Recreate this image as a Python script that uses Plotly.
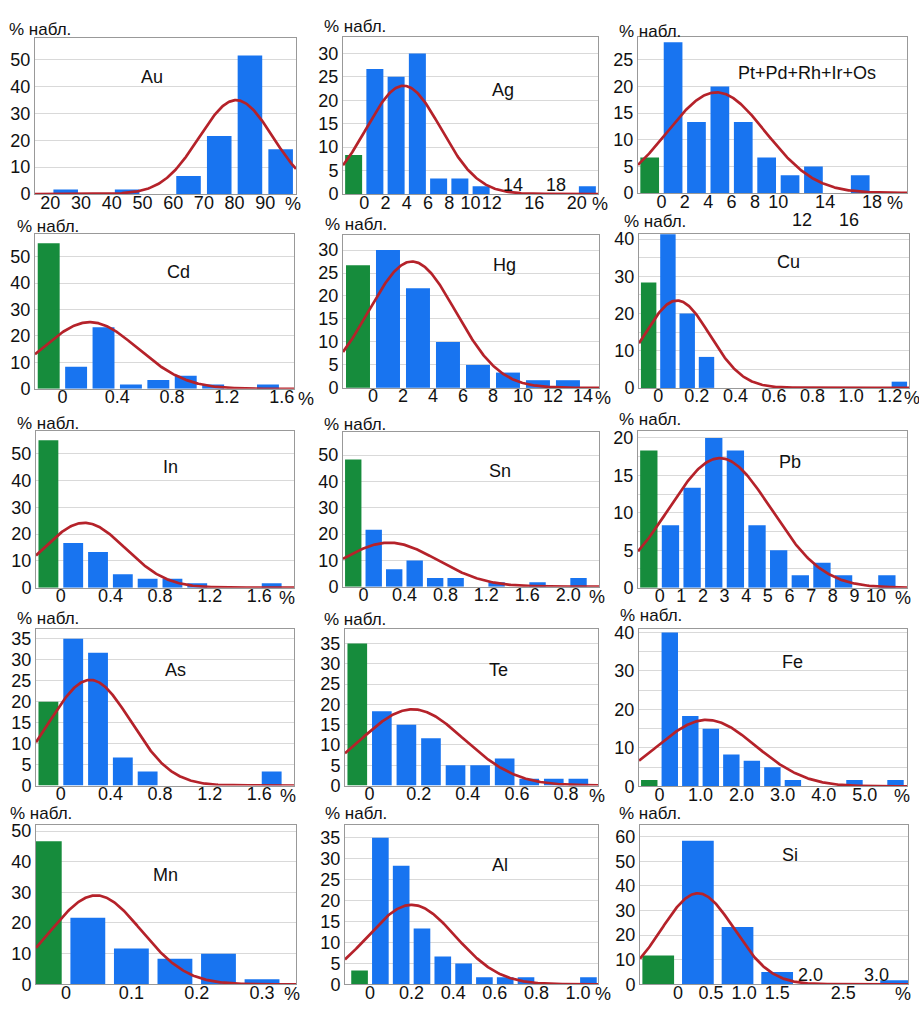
import numpy as np
import plotly.graph_objects as go

W, H = 919, 1014

elements = ["Au", "Ag", "Pt+Pd+Rh+Ir+Os", "Cd", "Hg", "Cu",
            "In", "Sn", "Pb", "As", "Te", "Fe", "Mn", "Al", "Si"]

# % of analyses per concentration class, counted from the first class edge
au_pct = [1.67, 0, 1.67, 0, 6.67, 21.67, 51.67, 16.67]
ag_pct = [26.67, 25.0, 30.0, 3.33, 3.33, 1.67, 0, 0, 0, 0, 1.67]
pgm_pct = [28.33, 13.33, 20.0, 13.33, 6.67, 3.33, 5.0, 0, 3.33]
cd_pct = [8.33, 23.33, 1.67, 3.33, 5.0, 1.67, 0, 1.67]
hg_pct = [30.0, 21.67, 10.0, 5.0, 3.33, 1.67, 1.67]
cu_pct = [41.67, 20.0, 8.33, 0, 0, 0, 0, 0, 0, 0, 0, 0, 1.67]
in_pct = [16.67, 13.33, 5.0, 3.33, 3.33, 1.67, 0, 0, 1.67]
sn_pct = [21.67, 6.67, 10.0, 3.33, 3.33, 0, 1.67, 0, 1.67, 0, 3.33]
pb_pct = [8.33, 13.33, 20.0, 18.33, 8.33, 5.0, 1.67, 3.33, 1.67, 0, 1.67]
as_pct = [35.0, 31.67, 6.67, 3.33, 0, 0, 0, 0, 3.33]
te_pct = [18.33, 15.0, 11.67, 5.0, 5.0, 6.67, 1.67, 1.67, 1.67]
fe_pct = [40.0, 18.33, 15.0, 8.33, 6.67, 5.0, 1.67, 0, 0, 1.67, 0, 1.67]
mn_pct = [21.67, 11.67, 8.33, 10.0, 1.67]
al_pct = [35.0, 28.33, 13.33, 6.67, 5.0, 1.67, 1.67, 1.67, 0, 0, 1.67]
si_pct = [58.33, 23.33, 5.0, 0, 0, 1.67]
class_pct = [au_pct, ag_pct, pgm_pct, cd_pct, hg_pct, cu_pct, in_pct, sn_pct,
             pb_pct, as_pct, te_pct, fe_pct, mn_pct, al_pct, si_pct]

# % of analyses below the detection limit (class left of zero)
below_dl = [None, 8.33, 6.67, 55.0, 26.67, 28.33, 55.0, 48.33,
            18.33, 20.0, 35.0, 1.67, 46.67, 3.33, 11.67]

# class width and first class edge, wt.%
class_w = [10, 2, 2, 0.2, 2, 0.1, 0.2, 0.2, 1, 0.2, 0.1, 0.5, 1 / 15, 0.1, 0.6]
class_0 = [20, 0, 0, 0, 0, 0, 0, 0, 0, 0, 0, 0, 0, 0, 0]

# fitted normal curves: mean, standard deviation, peak height (%)
fit_mean = [80.5, 3.7, 4.7, 0.2, 2.6, 0.097, 0.19, 0.25, 2.78, 0.237, 0.175, 1.15, 0.046, 0.2, 0.3]
fit_sd = [12, 3.5, 4.2, 0.35, 2.9, 0.17, 0.33, 0.47, 2.37, 0.327, 0.21, 1.2, 0.069, 0.21, 0.55]
fit_peak = [35, 23.1, 18.9, 25.2, 27.5, 23.5, 24.2, 16.75, 17.3, 25.2, 18.8, 17.3, 29, 19, 37]

# x tick labels on the axis line
x_tick_vals = [
    [20, 30, 40, 50, 60, 70, 80, 90],
    [0, 2, 4, 6, 8, 10, 12, 16, 20],
    [0, 2, 4, 6, 8, 10, 14, 18],
    [0, 0.4, 0.8, 1.2, 1.6],
    [0, 2, 4, 6, 8, 10, 12, 14],
    [0, 0.2, 0.4, 0.6, 0.8, 1.0, 1.2],
    [0, 0.4, 0.8, 1.2, 1.6],
    [0, 0.4, 0.8, 1.2, 1.6, 2.0],
    [0, 1, 2, 3, 4, 5, 6, 7, 8, 9, 10],
    [0, 0.4, 0.8, 1.2, 1.6],
    [0, 0.2, 0.4, 0.6, 0.8],
    [0, 1, 2, 3, 4, 5],
    [0, 0.1, 0.2, 0.3],
    [0, 0.2, 0.4, 0.6, 0.8, 1.0],
    [0, 0.5, 1.0, 1.5, 2.5],
]
x_tick_text = [
    ["20", "30", "40", "50", "60", "70", "80", "90"],
    ["0", "2", "4", "6", "8", "10", "12", "16", "20"],
    ["0", "2", "4", "6", "8", "10", "14", "18"],
    ["0", "0.4", "0.8", "1.2", "1.6"],
    ["0", "2", "4", "6", "8", "10", "12", "14"],
    ["0", "0.2", "0.4", "0.6", "0.8", "1.0", "1.2"],
    ["0", "0.4", "0.8", "1.2", "1.6"],
    ["0", "0.4", "0.8", "1.2", "1.6", "2.0"],
    ["0", "1", "2", "3", "4", "5", "6", "7", "8", "9", "10"],
    ["0", "0.4", "0.8", "1.2", "1.6"],
    ["0", "0.2", "0.4", "0.6", "0.8"],
    ["0", "1.0", "2.0", "3.0", "4.0", "5.0"],
    ["0", "0.1", "0.2", "0.3"],
    ["0", "0.2", "0.4", "0.6", "0.8", "1.0"],
    ["0", "0.5", "1.0", "1.5", "2.5"],
]
# labels lifted above (+1) or dropped below (-1) the tick row: panel, value, text
offset_ticks = [
    (1, 14, "14", 1), (1, 18, "18", 1),
    (2, 12, "12", -1), (2, 16, "16", -1),
    (14, 2.0, "2.0", 1), (14, 3.0, "3.0", 1),
]

# ---- layout of the 5 x 3 grid (pixels: left, right, top, bottom) ----
boxes = [
    (35, 296, 33, 191), (343, 598, 32, 191), (638, 907, 32, 190),
    (35, 294, 232, 389), (343, 599, 233, 388), (639, 909, 232, 388),
    (36, 294, 432, 591), (343, 599, 433, 590), (638, 907, 432, 591),
    (36, 294, 633, 792), (345, 598, 633, 792), (639, 907, 633, 793),
    (36, 296, 832, 994), (345, 598, 832, 994), (640, 908, 832, 994),
]
x_ranges = [
    [15, 100], [-2, 22], [-2, 21], [-0.2, 1.69], [-2, 15.07], [-0.1, 1.3],
    [-0.2, 1.88], [-0.2, 2.3], [-1, 11.43], [-0.2, 1.88], [-0.1, 0.93], [-0.5, 6.03],
    [-0.046, 0.352], [-0.12, 1.096], [-0.576, 3.48],
]
y_ranges = [
    [0, 58], [0, 33.4], [0, 29.2], [0, 58.4], [0, 33.2], [0, 41.3],
    [0, 58.4], [0, 58.75], [0, 20.9], [0, 37.35], [0, 38.6], [0, 40.9],
    [0, 52], [0, 38.1], [0, 64.8],
]
y_dtick = [10, 5, 5, 10, 5, 10, 10, 10, 5, 5, 5, 10, 10, 5, 10]
y_minor = [None, None, None, None, None, 5, None, None, 2.5, None, None, 5, None, None, None]
name_xy = [
    (152, 72), (503, 85), (807, 68), (178, 270), (505, 263), (788, 260),
    (170, 468), (500, 472), (790, 463), (175, 675), (498, 675), (792, 667),
    (165, 883), (500, 873), (790, 863),
]
caption_x = [7, 322, 617, 15, 323, 622, 15, 322, 617, 15, 322, 618, 8, 323, 617]
caption_dy = [9, 11, 6, 8, 11, 13, 8, 8, 12, 11, 10, 14, 12, 12, 12]
pct_dx = [-3, 2, -12, 12, 4, 3, -7, -2, -4, -6, -1, -5, -4, 5, -5]

BLUE = "#1874F0"
GREEN = "#168C3C"
RED = "#B5222A"
GRID = "#D9D9D9"
FRAME = "#999999"
FONT = "Liberation Sans, Arial, sans-serif"
TXT = "#111111"
TICK_SIZE = 18

fig = go.Figure()
layout = dict(
    width=W, height=H, margin=dict(l=0, r=0, t=0, b=0),
    paper_bgcolor="white", plot_bgcolor="white",
    barmode="overlay", showlegend=False,
    font=dict(family=FONT, size=TICK_SIZE, color=TXT),
)
annotations = []

for i, name in enumerate(elements):
    sfx = "" if i == 0 else str(i + 1)
    xa, ya = "x" + sfx, "y" + sfx
    w = class_w[i]
    vals = class_pct[i]
    centers = [class_0[i] + w * (k + 0.5) for k in range(len(vals))]

    fig.add_trace(go.Bar(x=centers, y=vals, width=0.8 * w, marker=dict(color=BLUE, line=dict(width=0)),
                         xaxis=xa, yaxis=ya, hoverinfo="skip"))
    if below_dl[i] is not None:
        fig.add_trace(go.Bar(x=[class_0[i] - w / 2], y=[below_dl[i]], width=0.8 * w,
                             marker=dict(color=GREEN, line=dict(width=0)),
                             xaxis=xa, yaxis=ya, hoverinfo="skip"))

    xs = np.linspace(x_ranges[i][0], x_ranges[i][1], 300)
    ys = fit_peak[i] * np.exp(-0.5 * ((xs - fit_mean[i]) / fit_sd[i]) ** 2)
    fig.add_trace(go.Scatter(x=xs, y=ys, mode="lines", line=dict(color=RED, width=2.7),
                             xaxis=xa, yaxis=ya, hoverinfo="skip"))

    l, r, t, b = boxes[i]
    layout["xaxis" + sfx] = dict(
        domain=[l / W, r / W], range=x_ranges[i], anchor=ya,
        tickmode="array", tickvals=x_tick_vals[i], ticktext=x_tick_text[i],
        tickangle=0,
        showgrid=False, zeroline=False, showline=True, mirror=True,
        linecolor=FRAME, linewidth=1, ticks="", ticklabelstandoff=-8,
        tickfont=dict(family=FONT, size=TICK_SIZE, color=TXT),
    )
    yax = dict(
        domain=[1 - b / H, 1 - t / H], range=y_ranges[i], anchor=xa,
        tick0=0, dtick=y_dtick[i],
        showgrid=True, gridcolor=GRID, gridwidth=1, zeroline=False,
        showline=True, mirror=True, linecolor=FRAME, linewidth=1, ticks="",
        tickfont=dict(family=FONT, size=TICK_SIZE, color=TXT),
    )
    if y_minor[i] is not None:
        yax["minor"] = dict(dtick=y_minor[i], tick0=0, showgrid=True, gridcolor=GRID, gridwidth=1)
    layout["yaxis" + sfx] = yax

    # element name
    nx, ny = name_xy[i]
    annotations.append(dict(x=nx / W, y=1 - ny / H, xref="paper", yref="paper",
                            text=name, showarrow=False, xanchor="center", yanchor="middle",
                            font=dict(family=FONT, size=18, color=TXT)))
    # y axis caption
    annotations.append(dict(x=caption_x[i] / W, y=1 - (t - caption_dy[i]) / H,
                            xref="paper", yref="paper",
                            text="% набл.", showarrow=False, xanchor="left", yanchor="middle",
                            font=dict(family=FONT, size=17, color=TXT)))
    # unit sign at the end of the x axis
    annotations.append(dict(x=1, y=0, xref=xa + " domain", yref=ya + " domain",
                            text="%", showarrow=False, xanchor="center", yanchor="middle",
                            xshift=pct_dx[i], yshift=-10,
                            font=dict(family=FONT, size=TICK_SIZE, color=TXT)))

for i, val, txt, d in offset_ticks:
    sfx = "" if i == 0 else str(i + 1)
    annotations.append(dict(x=val, y=0, xref="x" + sfx, yref="y" + sfx + " domain",
                            text=txt, showarrow=False, xanchor="center", yanchor="middle",
                            yshift=9 if d > 0 else -27,
                            font=dict(family=FONT, size=TICK_SIZE, color=TXT)))

layout["annotations"] = annotations
fig.update_layout(**layout)
fig.write_html("out.html")
